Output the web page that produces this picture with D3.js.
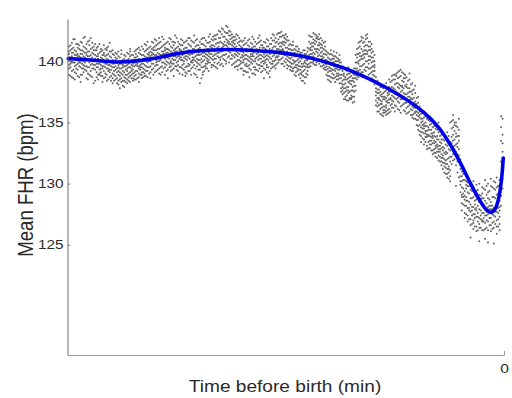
<!DOCTYPE html>
<html><head><meta charset="utf-8">
<script src="https://cdn.jsdelivr.net/npm/d3@7"></script>
<style>
html,body{margin:0;padding:0;background:#fff;}
svg{display:block;}
text{font-family:"Liberation Sans",Arial,sans-serif;fill:#2a2a2a;}
</style>
</head><body>
<svg id="chart" width="512" height="398"></svg>
<script>
const yTicks = [125, 130, 135, 140];
const xTicks = [0];
const xLabel = "Time before birth (min)";
const yLabel = "Mean FHR (bpm)";

// smoothed mean curve (blue)
const lineTime = [-59.9,-56.9,-53.4,-50.1,-47.4,-45.1,-41.8,-38.1,-34.9,-30.8,-28.0,-25.2,-21.6,-19.8,-17.0,-15.0,-13.0,-11.0,-9.0,-7.5,-6.0,-4.5,-3.3,-2.4,-1.8,-1.2,-0.7,-0.35,-0.1];
const lineFhr  = [140.22,140.1,139.94,140.05,140.3,140.6,140.85,140.96,140.9,140.7,140.45,140.05,139.35,138.9,138.1,137.45,136.7,135.8,134.6,133.3,131.7,129.9,128.6,127.85,127.65,127.95,128.9,130.3,132.1];

// raw points: [time, fhr values at that time...]
const scatterColumns = [
[-59.8,140.6,140.1,139.7,141.2,139.4,140.3,138.9,140.8],
[-59.6,140.3,139.8,140.9,139.5,141.3,140.0,138.8],
[-59.4,141.5,140.4,139.9,139.2,140.7,138.7,140.0,141.0],
[-59.2,139.9,140.7,139.3,141.1,140.2,138.6,141.8],
[-59.0,140.2,139.6,141.8,140.9,139.1,140.5,138.5,139.9],
[-58.8,140.5,139.7,140.1,141.4,139.0,140.8,139.4],
[-58.6,139.8,140.6,141.1,139.3,140.1,138.8,141.4,140.4],
[-58.4,140.0,141.0,139.6,140.4,138.7,141.3,139.9],
[-58.2,140.9,139.5,140.3,138.9,141.6,139.9,140.6,138.3],
[-58.0,139.4,140.2,140.9,139.8,141.5,138.9,140.6],
[-57.8,140.4,141.2,139.7,140.0,139.1,140.8,141.9,139.4],
[-57.6,140.7,139.9,141.1,140.3,139.3,142.0,139.6],
[-57.4,139.6,140.5,138.6,141.0,140.2,139.2,140.7,141.4],
[-57.2,140.1,140.8,139.5,141.6,139.0,140.4,138.5],
[-57.0,140.8,139.9,141.3,140.4,138.9,139.5,140.1,141.7],
[-56.8,139.7,140.5,141.0,139.2,140.2,141.9,138.8],
[-56.6,141.1,140.3,139.4,140.7,139.8,138.7,140.0,141.5],
[-56.4,140.6,139.4,140.0,141.2,139.7,140.9,138.2],
[-56.2,140.0,140.9,139.3,141.4,139.7,140.5,138.4,140.2],
[-56.0,139.8,140.4,139.1,140.9,139.5,138.7,141.1],
[-55.8,139.5,140.6,138.9,140.2,141.2,139.8,138.5,140.4],
[-55.6,140.1,139.3,140.7,138.9,139.8,141.4,139.0],
[-55.4,140.3,139.1,141.0,139.7,140.8,138.8,140.0,139.4],
[-55.2,139.6,140.2,138.8,140.9,139.4,138.3,140.5],
[-55.0,139.2,140.5,139.9,138.6,141.3,140.1,139.6,140.7],
[-54.8,140.0,139.5,141.0,139.0,140.4,138.7,139.8],
[-54.6,140.9,139.4,140.2,138.9,139.8,141.1,140.5,138.4],
[-54.4,139.2,140.1,139.7,138.5,140.6,139.4,141.2],
[-54.2,139.7,140.4,138.7,141.5,139.3,140.0,140.8,139.1],
[-54.0,139.9,139.3,140.3,138.8,139.6,140.8,138.4],
[-53.8,140.1,139.0,140.6,139.5,138.6,140.9,139.8,138.2],
[-53.6,139.5,138.9,140.0,139.2,138.4,140.5,139.8],
[-53.4,139.3,140.3,138.8,139.9,140.7,138.5,139.6,140.1],
[-53.2,139.1,139.9,138.6,140.2,139.4,138.2,140.6],
[-53.0,138.9,139.7,140.4,138.4,139.2,140.8,139.5,138.1],
[-52.8,139.4,138.8,139.8,140.3,138.5,139.1,137.8],
[-52.6,140.0,139.4,138.6,140.6,139.0,138.3,139.8,140.9],
[-52.4,138.9,139.7,139.2,138.4,140.1,139.5,138.0],
[-52.2,139.6,138.7,140.2,139.1,138.4,140.5,139.9,137.9],
[-52.0,139.3,138.6,139.9,140.4,138.9,139.6,138.3],
[-51.8,139.2,140.1,138.5,139.7,140.7,138.9,139.4,138.2],
[-51.6,139.8,139.0,140.2,138.7,139.5,140.6,138.4],
[-51.4,140.4,139.5,138.8,139.9,138.3,140.8,139.1,141.0],
[-51.2,139.4,140.0,138.9,139.7,140.5,138.6,139.2],
[-51.0,139.0,139.8,140.5,138.6,139.3,140.1,138.4,139.6],
[-50.8,139.1,139.9,138.5,140.3,139.6,138.8,140.8],
[-50.6,139.7,138.9,140.3,139.2,140.9,138.5,139.9,140.6],
[-50.4,139.6,140.4,139.2,138.6,140.0,139.8,141.0],
[-50.2,140.2,139.4,138.7,140.7,139.0,141.1,139.6,138.3],
[-50.0,140.0,139.3,140.6,139.7,138.9,140.9,139.5],
[-49.8,139.5,140.5,139.1,138.6,140.0,141.2,139.8,138.9],
[-49.6,139.8,140.5,139.4,141.0,138.7,140.2,139.1],
[-49.4,140.8,139.3,140.2,139.7,138.8,141.4,140.4,139.0],
[-49.2,140.3,139.6,140.9,139.2,140.0,141.3,138.8],
[-49.0,139.9,140.6,139.2,141.0,138.7,140.3,139.5,141.6],
[-48.8,140.0,140.7,139.5,140.3,141.1,139.0,140.5],
[-48.6,140.4,139.6,141.2,140.0,139.1,140.8,138.6,140.2],
[-48.4,140.5,139.8,141.0,140.2,139.3,140.7,141.6],
[-48.2,139.8,140.9,139.4,141.5,140.3,138.9,140.6,141.1],
[-48.0,140.2,140.9,139.6,141.2,140.5,139.1,141.8],
[-47.8,140.5,139.7,141.3,140.1,139.2,140.9,141.7,139.9],
[-47.6,140.7,140.0,141.4,139.7,140.4,141.0,139.3],
[-47.4,141.0,140.2,139.4,141.5,140.6,139.0,140.0,141.9],
[-47.2,140.1,141.1,140.5,139.5,141.6,140.3,138.9],
[-47.0,140.3,139.6,140.8,141.2,139.1,140.5,142.0,139.9],
[-46.8,140.8,139.9,140.4,141.3,139.4,140.6,141.8],
[-46.6,139.5,140.9,140.2,141.4,139.8,140.6,138.9,141.1],
[-46.4,140.3,141.0,139.7,140.7,141.5,139.2,140.0],
[-46.2,140.7,141.6,139.9,140.3,139.3,141.0,140.5,138.6],
[-46.0,140.9,140.2,141.4,139.8,140.5,141.9,139.5],
[-45.8,141.2,140.0,139.6,140.8,141.8,139.2,140.4,139.9],
[-45.6,140.5,139.8,141.1,140.2,141.6,139.3,140.7],
[-45.4,140.4,141.3,139.8,140.9,139.4,141.6,140.1,138.8],
[-45.2,141.0,140.4,139.6,141.5,140.1,140.8,142.1],
[-45.0,139.9,140.6,141.1,139.3,140.3,141.9,140.8,139.6],
[-44.8,140.4,141.2,140.0,139.7,141.6,140.6,139.2],
[-44.6,140.9,140.2,139.5,141.4,140.6,139.0,141.0,140.4],
[-44.4,140.7,140.1,141.3,139.5,140.9,141.8,140.3],
[-44.2,141.3,140.5,139.7,140.1,141.7,139.4,140.8,138.9],
[-44.0,140.3,141.0,139.8,140.6,141.5,139.3,140.0],
[-43.8,140.2,141.1,139.5,140.7,141.6,139.1,140.4,138.8],
[-43.6,141.1,140.4,139.6,141.7,140.1,140.8,139.0],
[-43.4,139.8,140.9,141.4,140.3,139.2,141.9,140.6,139.6],
[-43.2,140.2,140.9,141.3,139.7,140.5,139.2,141.9],
[-43.0,140.6,139.4,141.2,140.0,138.9,140.8,141.7,139.9],
[-42.8,140.6,139.9,141.0,140.3,141.6,139.5,140.1],
[-42.6,141.0,140.3,139.7,141.5,140.7,139.0,140.1,142.1],
[-42.4,140.0,140.8,139.4,141.2,140.4,138.9,141.7],
[-42.2,139.6,140.5,141.3,138.7,140.9,139.9,141.8,140.2],
[-42.0,140.5,141.3,139.8,140.1,141.0,139.3,140.7],
[-41.8,140.8,139.3,140.1,141.6,138.2,140.5,139.7,141.1],
[-41.6,139.9,140.6,141.4,139.5,140.2,141.8,138.6],
[-41.4,141.4,140.0,139.5,140.7,141.9,139.1,140.4,138.9],
[-41.2,140.7,140.1,139.6,141.3,140.4,141.9,139.2],
[-41.0,140.3,141.2,139.8,140.9,139.4,141.7,140.6,139.6],
[-40.8,140.2,141.0,140.5,139.4,141.5,140.0,139.8],
[-40.6,139.9,140.7,141.5,140.1,139.2,141.0,142.0,140.4],
[-40.4,140.9,140.3,141.6,139.9,140.6,141.2,142.2],
[-40.2,140.6,141.3,139.7,140.2,141.8,139.5,140.9,141.1],
[-40.0,141.0,140.4,141.7,140.1,141.3,139.7,142.0],
[-39.8,141.2,140.5,141.8,139.9,140.8,142.1,140.2,139.6],
[-39.6,140.6,141.4,142.1,140.2,140.9,141.8,139.5],
[-39.4,140.7,141.5,139.8,142.2,140.4,141.1,139.4,140.9],
[-39.2,141.2,140.7,141.9,142.5,140.3,141.5,139.9],
[-39.0,141.6,140.3,142.4,141.0,139.7,140.8,141.9,140.1],
[-38.8,141.5,140.8,142.2,141.1,139.8,142.7,140.4],
[-38.6,140.9,142.0,141.4,139.6,140.5,142.6,141.2,140.2],
[-38.4,141.0,142.0,141.6,140.5,142.4,140.1,141.3],
[-38.2,141.8,140.6,142.9,141.3,140.0,142.3,139.8,141.0],
[-38.0,141.7,140.9,142.3,141.2,140.3,142.8,141.5],
[-37.8,142.1,141.0,140.4,142.5,141.6,139.9,140.8,141.4],
[-37.6,141.4,142.1,140.7,141.8,140.2,142.4,141.0],
[-37.4,141.3,140.2,141.9,142.2,139.7,140.9,141.6,140.5],
[-37.2,140.9,141.5,142.0,140.4,141.2,139.8,141.7],
[-37.0,140.6,141.7,139.9,141.1,142.0,140.3,139.5,141.4],
[-36.8,141.2,140.5,141.8,140.0,140.8,142.2,139.6],
[-36.6,141.0,140.1,141.5,139.6,140.7,142.1,139.3,140.4],
[-36.4,140.6,141.3,140.1,141.6,139.7,140.9,141.9],
[-36.2,140.3,141.2,139.8,140.8,141.7,139.4,140.0,141.0],
[-36.0,140.5,139.9,141.1,140.3,141.6,139.4,140.8],
[-35.8,139.9,140.7,141.3,139.2,140.4,141.7,138.9,140.1],
[-35.6,140.2,140.9,139.7,141.4,140.5,139.2,141.9],
[-35.4,140.5,139.6,141.0,140.2,139.1,141.5,140.8,139.8],
[-35.2,140.8,140.1,141.3,139.6,140.4,141.7,139.1],
[-35.0,141.2,140.0,139.4,140.9,141.8,139.7,140.3,138.7],
[-34.8,140.4,141.0,139.9,140.6,141.5,139.3,140.2],
[-34.6,140.1,141.4,139.8,140.6,139.0,141.1,140.4,142.0],
[-34.4,140.0,140.7,141.2,139.5,140.4,141.8,139.0],
[-34.2,139.5,140.8,141.6,140.2,139.3,140.0,141.2,138.9],
[-34.0,140.6,139.8,141.0,140.3,139.3,141.4,140.9],
[-33.8,140.9,139.7,140.4,141.5,139.2,140.7,141.9,140.1],
[-33.6,140.2,141.1,139.7,140.5,141.6,139.4,142.1],
[-33.4,141.3,140.2,139.6,140.8,141.7,139.9,140.5,139.1],
[-33.2,140.8,140.0,141.3,139.6,140.4,141.1,139.2],
[-33.0,140.0,141.1,139.4,140.6,141.6,139.8,140.3,138.6],
[-32.8,140.4,141.0,139.9,140.7,141.5,139.3,140.1],
[-32.6,139.7,140.5,141.2,139.1,140.9,141.8,140.2,139.5],
[-32.4,140.1,140.8,139.5,141.2,140.4,141.7,139.0],
[-32.2,140.6,139.9,141.4,140.3,139.2,141.0,140.7,138.7],
[-32.0,140.7,140.2,141.4,139.8,140.9,141.9,139.4],
[-31.8,141.1,140.4,139.8,141.7,140.0,139.5,140.9,142.2],
[-31.6,140.5,141.2,140.0,141.7,139.6,140.8,142.1],
[-31.4,140.3,141.5,140.8,139.7,141.9,140.1,139.4,141.2],
[-31.2,141.0,140.4,141.6,140.9,139.8,142.2,140.3],
[-31.0,141.0,141.8,140.4,142.3,139.9,141.4,140.7,140.1],
[-30.8,141.2,140.6,142.0,141.5,140.1,142.3,140.9],
[-30.6,140.6,141.5,142.0,139.8,140.9,141.2,140.2,142.4],
[-30.4,140.9,141.6,140.3,142.1,141.0,139.8,141.4],
[-30.2,141.3,140.5,141.9,140.0,141.6,139.6,140.8,142.1],
[-30.0,141.1,140.5,141.8,140.2,141.5,142.2,139.9],
[-29.8,140.8,141.7,139.7,140.4,141.1,142.0,140.1,139.4],
[-29.6,140.6,141.3,140.0,141.0,139.6,141.7,140.3],
[-29.4,140.2,141.0,139.6,140.7,141.4,139.3,140.5,139.9],
[-29.2,140.3,139.8,140.9,141.3,139.5,140.6,139.2],
[-29.0,139.8,140.6,141.3,139.4,140.1,140.9,139.2,141.6],
[-28.8,140.0,140.7,139.5,141.0,139.9,140.4,138.9],
[-28.6,140.4,139.7,140.9,139.1,141.2,140.0,139.5,138.8],
[-28.4,139.7,140.4,139.2,140.8,140.1,139.4,141.2],
[-28.2,139.9,140.5,139.3,140.8,138.9,140.2,139.6,141.0],
[-28.0,139.6,140.3,139.0,140.7,139.3,140.0,138.6],
[-27.8,139.5,140.2,138.9,140.7,139.8,138.4,140.4,139.1],
[-27.6,139.8,139.2,140.4,138.8,139.6,140.9,138.4],
[-27.4,140.0,139.3,140.6,138.7,139.6,140.9,138.2,139.9],
[-27.2,139.5,140.1,139.0,140.6,139.8,138.7,140.3],
[-27.0,139.2,140.4,139.7,140.8,138.9,139.5,140.1,141.1],
[-26.8,140.2,141.0,139.8,141.6,140.5,139.5,142.1],
[-26.6,140.6,141.4,139.9,142.0,140.3,141.1,139.6,140.9],
[-26.4,140.9,141.5,140.3,142.0,141.2,139.9,140.6],
[-26.2,141.2,140.0,141.8,140.7,142.3,139.8,141.5,140.4],
[-26.0,141.4,140.6,142.2,141.0,140.1,141.7,139.7],
[-25.8,140.8,141.6,139.7,142.1,140.2,141.0,141.9,139.9],
[-25.6,141.0,141.8,140.4,141.3,142.0,140.0,140.7],
[-25.4,141.3,140.5,141.8,139.8,140.9,142.2,140.1,141.5],
[-25.2,140.7,141.4,140.1,141.9,140.4,139.6,141.1],
[-25.0,140.4,141.1,139.6,140.8,141.7,139.9,140.2,141.3],
[-24.8,140.3,141.0,139.7,140.6,141.5,139.4,140.0],
[-24.6,139.8,140.6,141.2,139.3,140.1,140.9,139.5,141.6],
[-24.4,139.8,140.5,139.3,140.1,138.9,140.8,139.6],
[-24.2,139.4,140.3,138.8,139.9,140.7,139.1,140.0,138.5],
[-24.0,139.5,140.2,138.8,139.9,140.6,139.2,138.4],
[-23.8,140.1,139.2,140.6,138.7,139.7,140.9,139.4,138.3],
[-23.6,139.9,139.3,140.5,138.6,139.7,140.2,139.0],
[-23.4,139.6,138.9,140.2,139.3,140.8,138.6,139.9,140.4],
[-23.2,139.2,140.0,139.6,138.7,140.4,139.4,138.3],
[-23.0,138.8,139.7,140.3,139.0,138.5,140.0,139.4,140.7],
[-22.8,139.0,139.7,138.5,140.2,139.3,138.8,140.0],
[-22.6,139.3,138.6,139.9,140.5,138.9,139.6,138.2,140.1],
[-22.4,138.9,138.2,139.4,137.8,138.6,139.9,137.5],
[-22.2,138.4,139.2,137.6,138.9,137.9,139.6,138.1,137.3],
[-22.0,138.1,138.8,137.4,139.0,137.8,138.5,136.9],
[-21.8,137.8,138.7,137.1,139.3,138.2,136.9,138.5,137.5],
[-21.6,137.9,138.5,137.2,138.9,137.6,139.2,136.8],
[-21.4,138.6,137.4,139.0,137.9,136.8,138.3,137.6,139.5],
[-21.2,138.2,137.5,138.7,137.0,138.4,139.0,136.9],
[-21.0,137.2,138.1,136.9,138.8,137.6,139.1,138.4,137.0],
[-20.8,137.6,138.4,137.1,139.0,137.9,138.6,136.6],
[-20.6,138.0,137.5,139.4,138.6,137.1,138.9,136.7,138.3],
[-20.4,138.6,139.4,138.0,139.9,138.9,140.5,137.6],
[-20.2,139.4,140.3,138.8,141.0,139.9,138.5,140.6,139.2],
[-20.0,139.8,140.6,139.2,141.1,140.0,138.7,141.5],
[-19.8,140.1,141.2,139.6,140.7,138.9,141.6,139.3,140.4],
[-19.6,140.4,141.0,139.6,141.7,140.2,139.1,142.0],
[-19.4,140.8,139.7,141.5,140.2,139.1,141.9,140.5,138.7],
[-19.2,140.9,140.3,141.6,139.8,141.2,140.6,139.3],
[-19.0,141.3,140.0,139.5,141.8,140.6,139.2,142.1,140.9],
[-18.8,140.6,141.3,140.0,141.9,139.5,140.8,142.2],
[-18.6,140.4,141.6,139.8,140.9,138.9,141.2,140.1,139.4],
[-18.4,140.1,140.9,139.4,141.2,140.4,139.0,141.6],
[-18.2,139.9,140.7,139.1,141.0,138.6,140.3,139.5,141.4],
[-18.0,139.6,140.3,138.9,140.8,139.2,140.0,138.5],
[-17.8,139.2,140.0,138.4,139.7,140.5,138.8,139.5,138.1],
[-17.6,137.8,138.3,137.2,138.7,136.8,137.5,136.4],
[-17.4,137.4,136.6,138.1,137.0,135.9,137.7,136.3,138.4],
[-17.2,137.0,137.7,136.4,138.1,136.9,135.9,137.4],
[-17.0,136.8,137.5,136.1,137.9,135.7,136.5,137.2,138.0],
[-16.8,136.7,137.3,136.2,137.9,136.5,135.6,137.1],
[-16.6,137.1,136.3,137.8,135.8,136.9,137.4,136.0,135.5],
[-16.4,136.9,136.3,137.5,135.8,137.1,136.0,138.0],
[-16.2,136.4,137.6,135.9,137.0,136.7,138.2,135.6,136.2],
[-16.0,136.6,137.2,136.0,137.8,135.7,136.8,137.4],
[-15.8,137.3,136.1,137.9,136.6,135.8,137.5,136.9,138.5],
[-15.6,137.0,137.8,136.4,138.3,136.9,135.9,137.5],
[-15.4,137.6,138.4,136.8,137.9,136.2,138.8,137.2,136.5],
[-15.2,137.8,138.5,137.1,138.9,136.7,137.5,136.2],
[-15.0,138.1,137.0,138.9,136.4,137.7,135.9,138.5,137.3],
[-14.8,137.5,138.2,136.9,138.8,137.3,136.3,139.0],
[-14.6,137.4,138.6,136.7,139.1,137.9,136.1,138.2,137.0],
[-14.4,138.1,137.3,138.7,136.6,137.8,139.2,136.0],
[-14.2,138.8,137.5,136.3,138.0,139.3,136.9,137.2,135.8],
[-14.0,137.6,138.4,136.9,137.9,139.1,136.4,138.0],
[-13.8,137.1,138.3,136.5,137.8,139.0,136.0,138.6,137.4],
[-13.6,137.3,138.0,136.6,138.6,137.0,135.9,138.9],
[-13.4,136.6,137.9,138.7,136.2,137.3,135.7,138.1,136.9],
[-13.2,137.1,137.8,136.3,138.4,136.8,135.8,137.4],
[-13.0,137.8,136.4,137.1,138.5,135.9,136.8,137.5,139.0],
[-12.8,136.9,137.5,136.1,138.1,136.5,135.6,137.0],
[-12.6,136.3,137.6,135.6,136.9,138.2,136.0,137.3,135.4],
[-12.4,136.2,137.0,135.7,136.6,137.7,135.3,136.4],
[-12.2,135.8,136.7,137.4,135.3,136.2,138.0,135.9,136.5],
[-12.0,135.9,136.5,135.2,137.0,135.6,134.8,136.3],
[-11.8,135.2,136.1,134.7,135.8,136.6,134.4,135.5,137.1],
[-11.6,135.4,134.8,135.9,134.3,135.6,136.3,134.0],
[-11.4,135.0,134.2,135.7,133.9,134.6,136.1,133.4,135.3],
[-11.2,134.8,135.3,134.2,135.8,134.5,133.7,135.1],
[-11.0,134.5,135.4,133.6,134.9,135.9,133.2,134.1,134.7],
[-10.8,134.3,135.0,133.8,134.7,135.5,133.4,134.1],
[-10.6,133.8,134.7,135.3,133.1,134.3,135.6,132.8,134.0],
[-10.4,134.0,134.6,133.4,135.2,133.9,132.9,134.4],
[-10.2,134.4,133.5,135.1,132.9,133.9,134.8,133.2,135.5],
[-10.0,133.8,134.4,133.2,134.9,133.5,132.7,134.1],
[-9.8,133.3,134.1,132.7,134.6,133.7,135.2,132.4,133.9],
[-9.6,133.5,134.2,132.8,133.9,134.7,132.5,133.3],
[-9.4,132.9,133.8,134.5,132.5,133.4,134.9,133.1,132.2],
[-9.2,133.2,133.9,132.6,134.4,133.0,132.1,133.6],
[-9.0,133.6,132.8,134.2,132.3,133.1,135.0,132.6,131.9],
[-8.8,132.8,133.4,132.2,133.9,132.6,131.8,133.1],
[-8.6,132.4,133.3,131.8,134.0,132.9,131.5,133.6,132.1],
[-8.4,132.3,133.0,131.7,133.6,132.1,131.2,132.7],
[-8.2,132.0,132.9,131.4,133.5,132.5,130.9,133.9,131.7],
[-8.0,131.9,132.6,131.3,133.2,131.6,130.8,132.4],
[-7.8,131.6,132.5,130.8,133.1,131.2,132.0,134.2,130.5],
[-7.6,131.4,132.1,130.9,132.8,131.2,130.4,133.9],
[-7.4,131.1,132.2,130.6,131.8,133.4,130.2,132.7,135.0],
[-7.2,132.9,133.8,132.2,134.5,133.3,131.6,135.1],
[-7.0,133.5,134.6,132.4,135.2,133.0,134.0,131.9,135.6],
[-6.8,133.6,134.3,132.8,135.0,133.1,132.0,134.8],
[-6.6,134.1,133.2,135.0,132.6,133.8,134.7,131.5,129.8],
[-6.4,133.0,133.9,132.4,134.6,131.8,133.3,130.9],
[-6.2,132.8,133.9,131.9,134.4,132.3,133.5,130.5,135.3],
[-6.0,130.6,131.2,129.9,131.5,130.2,129.3,132.0],
[-5.8,130.2,129.1,131.0,128.4,129.7,127.8,130.6,128.9],
[-5.6,129.6,130.3,128.9,130.8,129.2,128.3,131.1],
[-5.4,129.4,128.2,130.3,127.6,129.0,130.8,128.7,127.2],
[-5.2,128.9,129.6,128.2,130.2,128.6,127.5,129.9],
[-5.0,128.6,129.8,127.4,130.1,128.0,129.3,126.9,130.6],
[-4.8,128.5,129.2,127.8,129.8,128.0,127.1,130.3],
[-4.6,128.3,129.5,127.1,128.8,126.6,129.9,127.7,125.6],
[-4.4,128.1,128.8,127.4,129.4,127.8,126.7,129.9],
[-4.2,127.5,128.9,126.8,129.6,128.1,127.0,130.2,126.3],
[-4.0,127.9,128.6,127.2,129.1,127.5,126.5,128.3],
[-3.8,128.7,127.3,129.4,126.5,128.0,129.9,127.8,126.1],
[-3.6,128.2,127.6,128.9,126.9,127.3,129.5,126.2],
[-3.4,127.9,129.1,126.7,128.5,127.2,130.0,126.4,125.3],
[-3.2,127.8,128.4,127.1,129.0,127.4,126.4,128.7],
[-3.0,128.4,127.0,129.7,126.9,128.8,127.6,129.2,126.2],
[-2.8,127.6,128.3,126.9,128.8,127.2,126.2,129.6],
[-2.6,127.4,128.6,126.3,129.5,127.9,126.8,130.3,125.5],
[-2.4,127.7,128.4,127.0,129.1,127.4,126.4,129.8],
[-2.2,128.1,129.3,126.9,130.0,127.5,126.2,128.8,125.2],
[-2.0,127.9,128.7,127.2,129.4,127.6,126.6,128.2],
[-1.8,127.2,128.5,129.8,126.6,127.9,130.4,126.1,128.2],
[-1.6,128.2,127.5,128.9,126.8,127.9,129.7,126.3],
[-1.4,128.9,127.4,126.4,129.6,128.0,126.9,130.2,125.1],
[-1.2,128.0,128.8,127.3,129.5,127.7,126.7,130.1],
[-1.0,127.7,129.1,126.5,128.4,130.5,127.0,129.7,125.9],
[-0.8,128.4,127.6,129.2,127.1,128.0,129.8,126.5],
[-0.6,128.6,127.3,129.9,126.7,128.1,130.3,127.8,126.2],
[-0.4,129.0,130.5,131.8,133.5,128.2,134.6,135.5],
[-0.2,131.2,132.6,134.0,135.3,130.4,133.3,129.6]
];

const svg = d3.select("#chart");
const x = d3.scaleLinear().domain([-60, 0]).range([67.5, 504]);
const y = d3.scaleLinear().domain([116, 143.45]).range([355, 19]);

// points
const pts = [];
scatterColumns.forEach(c => { for (let i = 1; i < c.length; i++) pts.push([c[0], c[i]]); });
svg.append("g").selectAll("circle").data(pts).join("circle")
  .attr("cx", d => x(d[0])).attr("cy", d => y(d[1]))
  .attr("r", 1.0).attr("fill", "#646464");

// smooth curve
const lineData = lineTime.map((t, i) => [t, lineFhr[i]]);
svg.append("path").datum(lineData)
  .attr("fill", "none").attr("stroke", "#0000e6").attr("stroke-width", 3.6)
  .attr("stroke-linecap", "round")
  .attr("d", d3.line().x(d => x(d[0])).y(d => y(d[1])).curve(d3.curveCatmullRom.alpha(0.5)));

// y axis
const gy = svg.append("g").attr("transform", "translate(67.5,0)")
  .call(d3.axisLeft(y).tickValues(yTicks).tickSizeInner(-3).tickSizeOuter(0).tickPadding(4));
gy.select(".domain").attr("stroke", "#6f6f6f");
gy.selectAll(".tick line").attr("stroke", "#888");
gy.selectAll(".tick text").attr("x", null)
  .attr("transform", "translate(-4,0) scale(1.2,1)")
  .style("font-size", "12.8px").style("font-family", "'Liberation Sans',Arial,sans-serif").attr("fill", "#2a2a2a");

// x axis
const gx = svg.append("g").attr("transform", "translate(0,355)")
  .call(d3.axisBottom(x).tickValues(xTicks).tickSizeInner(-4).tickSizeOuter(0).tickPadding(8.5));
gx.select(".domain").attr("stroke", "#9a9a9a");
gx.selectAll(".tick line").attr("stroke", "#9a9a9a");
gx.selectAll(".tick text").attr("transform", "scale(1.2,1)")
  .style("font-size", "13px").style("font-family", "'Liberation Sans',Arial,sans-serif").attr("fill", "#2a2a2a");

// titles
svg.append("text").attr("transform", "translate(285,392) scale(1.18,1)")
  .attr("text-anchor", "middle").style("font-size", "16.2px").text(xLabel);
svg.append("text").attr("transform", "translate(33,185) scale(1.18,1) rotate(-90)")
  .attr("text-anchor", "middle").style("font-size", "18.6px").text(yLabel);
</script>
</body></html>
